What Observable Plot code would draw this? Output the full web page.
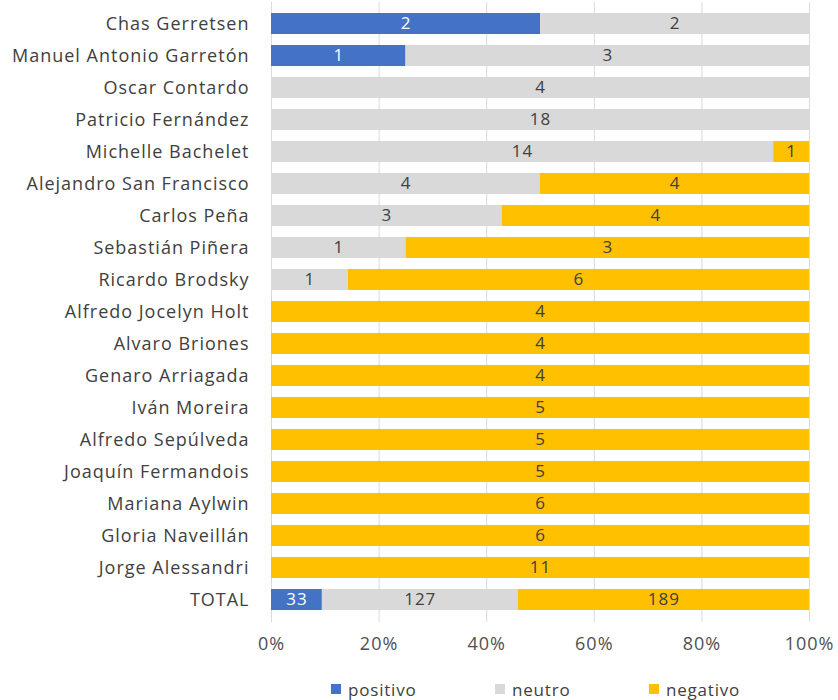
<!DOCTYPE html>
<html>
<head>
<meta charset="utf-8">
<script src="https://cdn.jsdelivr.net/npm/d3@7"></script>
<script src="https://cdn.jsdelivr.net/npm/@observablehq/plot@0.6"></script>
<style>
  body { margin: 0; background: #fff; font-family: "Open Sans", sans-serif; }
  #wrap { position: relative; width: 838px; height: 700px; }
  #legend { position: absolute; top: 677px; left: 0; width: 838px; height: 24px; font-size: 17px; letter-spacing: 0.8px; color: #404040; }
  .item { position: absolute; top: 0; display: flex; align-items: center; height: 24px; }
  .sw { width: 10px; height: 10px; margin-right: 7px; display: inline-block; }
</style>
</head>
<body>
<div id="wrap"><div id="chart"></div><div id="legend"></div></div>
<script>
const names = ["Chas Gerretsen","Manuel Antonio Garretón","Oscar Contardo","Patricio Fernández","Michelle Bachelet","Alejandro San Francisco","Carlos Peña","Sebastián Piñera","Ricardo Brodsky","Alfredo Jocelyn Holt","Alvaro Briones","Genaro Arriagada","Iván Moreira","Alfredo Sepúlveda","Joaquín Fermandois","Mariana Aylwin","Gloria Naveillán","Jorge Alessandri","TOTAL"];
const positivo = [2,1,0,0,0,0,0,0,0,0,0,0,0,0,0,0,0,0,33];
const neutro   = [2,3,4,18,14,4,3,1,1,0,0,0,0,0,0,0,0,0,127];
const negativo = [0,0,0,0,1,4,4,3,6,4,4,4,5,5,5,6,6,11,189];
const categories = ["positivo","neutro","negativo"];
const colors = ["#4472C4","#D9D9D9","#FFC000"];
const xTicks = [0,0.2,0.4,0.6,0.8,1];

const series = [positivo, neutro, negativo];
const rows = [];
names.forEach((n, i) => categories.forEach((c, j) => rows.push({name: n, cat: c, value: series[j][i]})));
const labelRows = rows.filter(d => d.value > 0);

const stackOpts = {x: "value", y: "name", z: "cat", offset: "normalize", order: categories};

const chart = Plot.plot({
  width: 838,
  height: 668,
  marginLeft: 271,
  marginRight: 29,
  marginTop: 2,
  marginBottom: 46,
  style: {fontFamily: "Open Sans, sans-serif", color: "#404040", background: "#fff", letterSpacing: "1px"},
  x: {domain: [0,1], ticks: xTicks, tickFormat: d3.format(".0%")},
  y: {domain: names, paddingInner: 0.34, paddingOuter: 0.17, align: 0.5},
  color: {domain: categories, range: colors},
  marks: [
    Plot.gridX(xTicks, {stroke: "#D9D9D9", strokeOpacity: 1}),
    Plot.barX(rows, Plot.stackX({...stackOpts, fill: "cat"})),
    Plot.text(labelRows, Plot.stackX({...stackOpts, text: "value",
      fill: d => d.cat === "positivo" ? "#ffffff" : "#404040", fontSize: 17})),
    Plot.axisY({tickSize: 0, tickPadding: 22, fontSize: 18, label: null, fill: "#404040"}),
    Plot.axisX(xTicks, {tickSize: 0, tickPadding: 15, fontSize: 18, label: null, fill: "#505050", tickFormat: d3.format(".0%")})
  ]
});
document.getElementById("chart").appendChild(chart);

const legend = document.getElementById("legend");
const lefts = [331, 495, 649];
categories.forEach((c, i) => {
  const it = document.createElement("div");
  it.className = "item";
  it.style.left = lefts[i] + "px";
  it.innerHTML = `<span class="sw" style="background:${colors[i]}"></span><span>${c}</span>`;
  legend.appendChild(it);
});
</script>
</body>
</html>
